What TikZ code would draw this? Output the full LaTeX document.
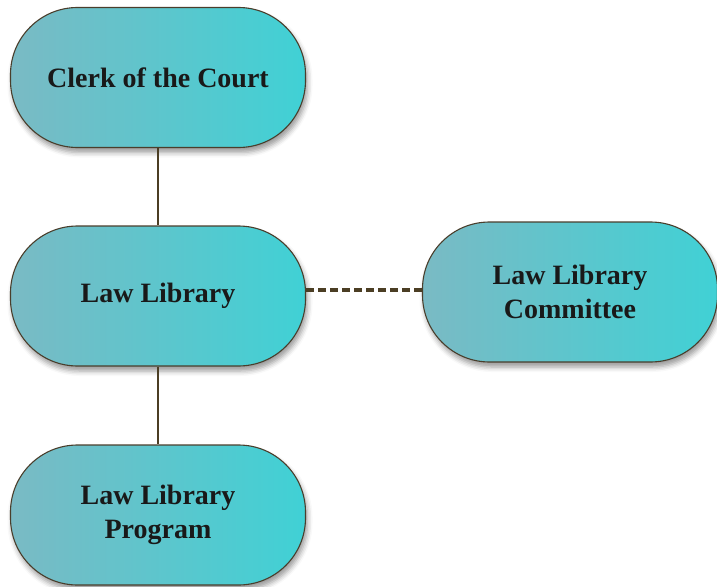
\documentclass[tikz,border=0pt]{standalone}
\usepackage{fontspec}
\setmainfont{Liberation Serif}
\usetikzlibrary{shadows.blur}
\definecolor{pillleft}{RGB}{122,186,196}
\definecolor{pillright}{RGB}{64,209,213}
\definecolor{pillrim}{RGB}{74,62,44}
\definecolor{linkbrown}{RGB}{75,62,36}
\tikzset{
  pill/.style={rectangle, rounded corners=67pt, draw=pillrim, line width=1.1pt,
    left color=pillleft, right color=pillright,
    minimum width=295pt, minimum height=140pt, inner sep=0pt,
    align=center, font=\fontsize{28}{34}\selectfont\bfseries, text=black!90,
    blur shadow={shadow xshift=2pt, shadow yshift=-5pt, shadow blur radius=5pt, shadow opacity=40}},
  solidlink/.style={draw=linkbrown, line width=1.5pt},
  dashlink/.style={draw=linkbrown, line width=3.5pt, dash pattern=on 8pt off 4pt}
}
\begin{document}
\begin{tikzpicture}[x=1pt, y=-1pt]
  \useasboundingbox (0,0) rectangle (717,586);
  % three levels of the chain plus the advisory committee
  \node[pill] (clerk) at (158,77.5) {Clerk of the Court};
  \node[pill] (lib) at (158,296) {Law Library};
  \node[pill] (prog) at (158,515) {Law Library\\Program};
  \node[pill] (comm) at (570,292) {Law Library\\Committee};
  % reporting lines
  \draw[solidlink] (clerk.south) -- (lib.north);
  \draw[solidlink] (lib.south) -- (prog.north);
  % advisory link
  \draw[dashlink] (lib.east |- 0,290) -- (comm.west |- 0,290);
\end{tikzpicture}
\end{document}
